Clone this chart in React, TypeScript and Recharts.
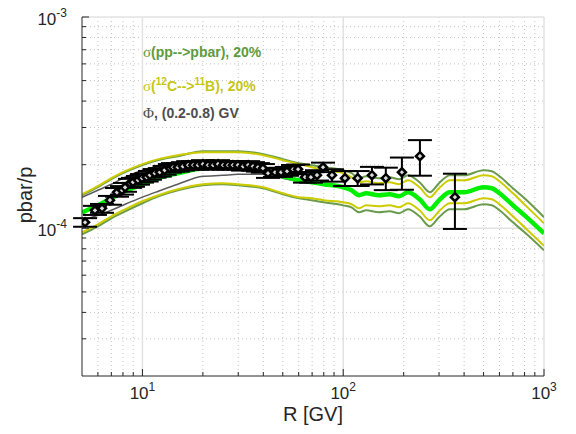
import React from "react";
import { ComposedChart, Line, Scatter, ErrorBar, XAxis, YAxis, CartesianGrid } from "recharts";

// rigidity grid of the model curves [GV]
const modelR = [5, 6, 7, 8, 10, 12, 15, 20, 25, 30, 40, 50, 60, 70, 80, 100, 110, 120, 130, 150, 170, 190, 210, 240, 270, 300, 340, 400, 500, 550, 600, 700, 800, 1000];

// central model (bright green)
const central = [1.19e-4, 1.285e-4, 1.388e-4, 1.481e-4, 1.617e-4, 1.726e-4, 1.822e-4, 1.924e-4, 1.945e-4, 1.945e-4, 1.883e-4, 1.764e-4, 1.689e-4, 1.652e-4, 1.617e-4, 1.564e-4, 1.514e-4, 1.434e-4, 1.465e-4, 1.434e-4, 1.45e-4, 1.418e-4, 1.481e-4, 1.373e-4, 1.23e-4, 1.358e-4, 1.481e-4, 1.481e-4, 1.564e-4, 1.547e-4, 1.465e-4, 1.285e-4, 1.152e-4, 0.947e-4];

// sigma(pp-->pbar) 20% band (olive)
const ppUpper = [1.433e-4, 1.565e-4, 1.709e-4, 1.823e-4, 1.991e-4, 2.102e-4, 2.194e-4, 2.316e-4, 2.316e-4, 2.316e-4, 2.243e-4, 2.124e-4, 2.034e-4, 1.989e-4, 1.947e-4, 1.883e-4, 1.823e-4, 1.727e-4, 1.764e-4, 1.727e-4, 1.746e-4, 1.707e-4, 1.783e-4, 1.653e-4, 1.481e-4, 1.635e-4, 1.783e-4, 1.783e-4, 1.883e-4, 1.863e-4, 1.764e-4, 1.547e-4, 1.387e-4, 1.128e-4];
const ppLower = [0.936e-4, 1.021e-4, 1.115e-4, 1.19e-4, 1.314e-4, 1.417e-4, 1.513e-4, 1.598e-4, 1.615e-4, 1.597e-4, 1.546e-4, 1.448e-4, 1.387e-4, 1.356e-4, 1.328e-4, 1.284e-4, 1.257e-4, 1.191e-4, 1.217e-4, 1.191e-4, 1.204e-4, 1.178e-4, 1.23e-4, 1.14e-4, 1.022e-4, 1.128e-4, 1.23e-4, 1.23e-4, 1.299e-4, 1.285e-4, 1.217e-4, 1.067e-4, 0.957e-4, 0.787e-4];

// sigma(12C-->11B) 20% band (yellow)
const cbUpper = [1.449e-4, 1.582e-4, 1.728e-4, 1.844e-4, 2.013e-4, 2.125e-4, 2.219e-4, 2.291e-4, 2.291e-4, 2.291e-4, 2.218e-4, 2.101e-4, 2.012e-4, 1.946e-4, 1.884e-4, 1.822e-4, 1.744e-4, 1.652e-4, 1.67e-4, 1.635e-4, 1.653e-4, 1.617e-4, 1.688e-4, 1.565e-4, 1.402e-4, 1.548e-4, 1.688e-4, 1.688e-4, 1.783e-4, 1.764e-4, 1.67e-4, 1.465e-4, 1.298e-4, 1.056e-4];
const cbLower = [0.956e-4, 1.044e-4, 1.14e-4, 1.216e-4, 1.343e-4, 1.434e-4, 1.53e-4, 1.615e-4, 1.633e-4, 1.615e-4, 1.564e-4, 1.465e-4, 1.403e-4, 1.387e-4, 1.358e-4, 1.328e-4, 1.3e-4, 1.245e-4, 1.285e-4, 1.272e-4, 1.287e-4, 1.258e-4, 1.314e-4, 1.218e-4, 1.091e-4, 1.205e-4, 1.314e-4, 1.314e-4, 1.388e-4, 1.373e-4, 1.3e-4, 1.14e-4, 1.011e-4, 0.826e-4];

// Phi (0.2-0.8) GV band (gray), only up to 100 GV
const phiUpper = [1.402e-4, 1.514e-4, 1.617e-4, 1.725e-4, 1.884e-4, 1.968e-4, 2.011e-4, 2.055e-4, 2.033e-4, 2.009e-4, 1.924e-4, 1.783e-4, 1.689e-4, 1.652e-4, 1.617e-4, 1.564e-4];
const phiLower = [1.09e-4, 1.152e-4, 1.218e-4, 1.286e-4, 1.404e-4, 1.498e-4, 1.617e-4, 1.762e-4, 1.781e-4, 1.801e-4, 1.802e-4, 1.726e-4, 1.671e-4, 1.652e-4, 1.617e-4, 1.564e-4];

// measured pbar/p
const dataR = [5.18, 5.8, 6.29, 6.89, 7.47, 7.91, 8.19, 8.67, 8.97, 9.5, 9.95, 10.5, 10.9, 11.5, 12.2, 12.9, 13.7, 14.2, 15.0, 15.9, 16.9, 17.9, 18.9, 20.0, 21.2, 22.5, 23.8, 25.2, 26.7, 28.2, 29.9, 31.7, 33.6, 35.5, 37.6, 39.8, 42.2, 45.7, 49.0, 52.5, 56.2, 59.6, 64.5, 69.1, 74.0, 79.3, 87.9, 102, 118, 139, 163, 196, 241, 360];
const dataVal = [1.067e-4, 1.217e-4, 1.244e-4, 1.358e-4, 1.481e-4, 1.514e-4, 1.564e-4, 1.634e-4, 1.652e-4, 1.689e-4, 1.726e-4, 1.745e-4, 1.783e-4, 1.822e-4, 1.842e-4, 1.883e-4, 1.924e-4, 1.945e-4, 1.945e-4, 1.966e-4, 1.989e-4, 1.989e-4, 1.989e-4, 2.011e-4, 1.989e-4, 1.989e-4, 2.011e-4, 1.989e-4, 1.989e-4, 1.989e-4, 1.989e-4, 1.966e-4, 1.989e-4, 1.966e-4, 1.945e-4, 1.924e-4, 1.822e-4, 1.842e-4, 1.842e-4, 1.862e-4, 1.903e-4, 1.903e-4, 1.745e-4, 1.745e-4, 1.783e-4, 1.945e-4, 1.783e-4, 1.726e-4, 1.726e-4, 1.783e-4, 1.726e-4, 1.842e-4, 2.194e-4, 1.403e-4];
const dataErr = [0.05e-4, 0.06e-4, 0.06e-4, 0.065e-4, 0.07e-4, 0.07e-4, 0.075e-4, 0.08e-4, 0.08e-4, 0.08e-4, 0.08e-4, 0.08e-4, 0.085e-4, 0.085e-4, 0.085e-4, 0.09e-4, 0.09e-4, 0.09e-4, 0.09e-4, 0.09e-4, 0.09e-4, 0.09e-4, 0.09e-4, 0.09e-4, 0.09e-4, 0.09e-4, 0.09e-4, 0.09e-4, 0.09e-4, 0.09e-4, 0.09e-4, 0.09e-4, 0.09e-4, 0.09e-4, 0.09e-4, 0.09e-4, 0.09e-4, 0.09e-4, 0.09e-4, 0.09e-4, 0.09e-4, 0.1e-4, 0.1e-4, 0.1e-4, 0.1e-4, 0.1e-4, 0.12e-4, 0.14e-4, 0.14e-4, 0.17e-4, 0.21e-4, 0.32e-4, 0.42e-4, 0.41e-4];

// axis ticks
const xMajor = [10, 100, 1000];
const xMajorExp = ["1", "2", "3"];
const xMinor = [6, 7, 8, 9, 20, 30, 40, 50, 60, 70, 80, 90, 200, 300, 400, 500, 600, 700, 800, 900];
const yMajor = [1e-4, 1e-3];
const yMajorExp = ["-4", "-3"];
const yMinor = [3e-5, 4e-5, 5e-5, 6e-5, 7e-5, 8e-5, 9e-5, 2e-4, 3e-4, 4e-4, 5e-4, 6e-4, 7e-4, 8e-4, 9e-4];

const OLIVE = "#6a9a4c";
const YELLOW = "#cccc00";
const GREEN = "#00ee00";
const GRAY = "#5a5a5a";
const AXIS = "#262626";
const SANS = "'Liberation Sans', Arial, Helvetica, sans-serif";
const SERIF = "'Liberation Serif', 'Times New Roman', serif";

const curve = (ys: number[]) => ys.map((v, i) => ({ r: modelR[i], v }));
const points = dataR.map((r, i) => ({ r, v: dataVal[i], e: dataErr[i] }));

const XTick = (props: any) => {
  const { x, y, payload } = props;
  const i = xMajor.indexOf(payload.value);
  return (
    <g>
      <line x1={x} x2={x} y1={y} y2={y - (i >= 0 ? 7 : 4)} stroke={AXIS} strokeWidth={1} />
      {i >= 0 && (
        <text x={x} y={y + 23} textAnchor="middle" fontSize={17} fill={AXIS} fontFamily={SANS}>
          10<tspan dy={-8} fontSize={12}>{xMajorExp[i]}</tspan>
        </text>
      )}
    </g>
  );
};

const YTick = (props: any) => {
  const { x, y, payload } = props;
  const i = yMajor.findIndex((m) => Math.abs(m - payload.value) / m < 1e-6);
  return (
    <g>
      <line x1={x} x2={x + (i >= 0 ? 7 : 4)} y1={y} y2={y} stroke={AXIS} strokeWidth={1} />
      {i >= 0 && (
        <text x={x - 15} y={y + 8} textAnchor="end" fontSize={17} fill={AXIS} fontFamily={SANS}>
          10<tspan dy={-8} fontSize={12}>{yMajorExp[i]}</tspan>
        </text>
      )}
    </g>
  );
};

const Diamond = (props: any) => {
  const { cx, cy } = props;
  const s = 4;
  return (
    <path
      d={`M${cx},${cy - s}L${cx + s},${cy}L${cx},${cy + s}L${cx - s},${cy}Z`}
      fill="#d8d8d8"
      stroke="#000"
      strokeWidth={2.5}
    />
  );
};

export default function App() {
  return (
    <div style={{ position: "absolute", left: 0, top: 0, width: 576, height: 434, background: "#fff" }}>
      <ComposedChart width={576} height={434} margin={{ top: 17, right: 32, bottom: 28, left: 22 }}>
        <CartesianGrid verticalValues={xMinor} horizontalValues={yMinor} stroke="#c4c4c4" strokeDasharray="1 3" fill="none" />
        <CartesianGrid verticalValues={xMajor} horizontalValues={yMajor} stroke="#e2e2e2" strokeWidth={1.5} fill="none" />
        <XAxis
          dataKey="r"
          type="number"
          scale="log"
          domain={[5, 1000]}
          allowDataOverflow
          ticks={[...xMinor, ...xMajor].sort((a, b) => a - b)}
          interval={0}
          tick={<XTick />}
          tickLine={false}
          tickSize={0}
          tickMargin={0}
          height={30}
          axisLine={{ stroke: AXIS, strokeWidth: 1 }}
        />
        <YAxis
          type="number"
          scale="log"
          domain={[2e-5, 1e-3]}
          allowDataOverflow
          ticks={[...yMinor, ...yMajor].sort((a, b) => a - b)}
          interval={0}
          tick={<YTick />}
          tickLine={false}
          tickSize={0}
          tickMargin={0}
          width={60}
          axisLine={{ stroke: AXIS, strokeWidth: 1 }}
        />
        <Line data={curve(ppUpper)} dataKey="v" type="monotone" stroke={OLIVE} strokeWidth={2} dot={false} isAnimationActive={false} />
        <Line data={curve(ppLower)} dataKey="v" type="monotone" stroke={OLIVE} strokeWidth={2} dot={false} isAnimationActive={false} />
        <Line data={curve(cbUpper)} dataKey="v" type="monotone" stroke={YELLOW} strokeWidth={2} dot={false} isAnimationActive={false} />
        <Line data={curve(cbLower)} dataKey="v" type="monotone" stroke={YELLOW} strokeWidth={2} dot={false} isAnimationActive={false} />
        <Line data={curve(phiUpper)} dataKey="v" type="monotone" stroke={GRAY} strokeWidth={1.5} dot={false} isAnimationActive={false} />
        <Line data={curve(phiLower)} dataKey="v" type="monotone" stroke={GRAY} strokeWidth={1.5} dot={false} isAnimationActive={false} />
        <Line data={curve(central)} dataKey="v" type="monotone" stroke={GREEN} strokeWidth={4.5} dot={false} isAnimationActive={false} />
        <Scatter data={points} dataKey="v" shape={<Diamond />} isAnimationActive={false}>
          <ErrorBar dataKey="e" direction="y" width={12} stroke="#000" strokeWidth={2} isAnimationActive={false} />
        </Scatter>
      </ComposedChart>
      <svg width={576} height={434} style={{ position: "absolute", left: 0, top: 0, pointerEvents: "none" }}>
        <text x={143} y={57} fontSize={14} fontWeight="bold" fill="#5e9b3d" fontFamily={SANS}>
          <tspan fontFamily={SERIF} fontWeight="normal" fontSize={15}>σ</tspan>(pp--&gt;pbar), 20%
        </text>
        <text x={143} y={91} fontSize={14} fontWeight="bold" fill="#c6c614" fontFamily={SANS}>
          <tspan fontFamily={SERIF} fontWeight="normal" fontSize={15}>σ</tspan>(
          <tspan dy={-6} fontSize={10}>12</tspan>
          <tspan dy={6}>C--&gt;</tspan>
          <tspan dy={-6} fontSize={10}>11</tspan>
          <tspan dy={6}>B), 20%</tspan>
        </text>
        <text x={143} y={118} fontSize={14} fontWeight="bold" fill="#4d4d4d" fontFamily={SANS}>
          <tspan fontFamily={SERIF} fontWeight="normal" fontSize={15}>Φ</tspan>, (0.2-0.8) GV
        </text>
        <text x={313} y={421} textAnchor="middle" fontSize={20} fill={AXIS} fontFamily={SANS}>
          R [GV]
        </text>
        <text x={32} y={195} textAnchor="middle" fontSize={20} fill={AXIS} fontFamily={SANS} transform="rotate(-90 32 195)">
          pbar/p
        </text>
      </svg>
    </div>
  );
}
